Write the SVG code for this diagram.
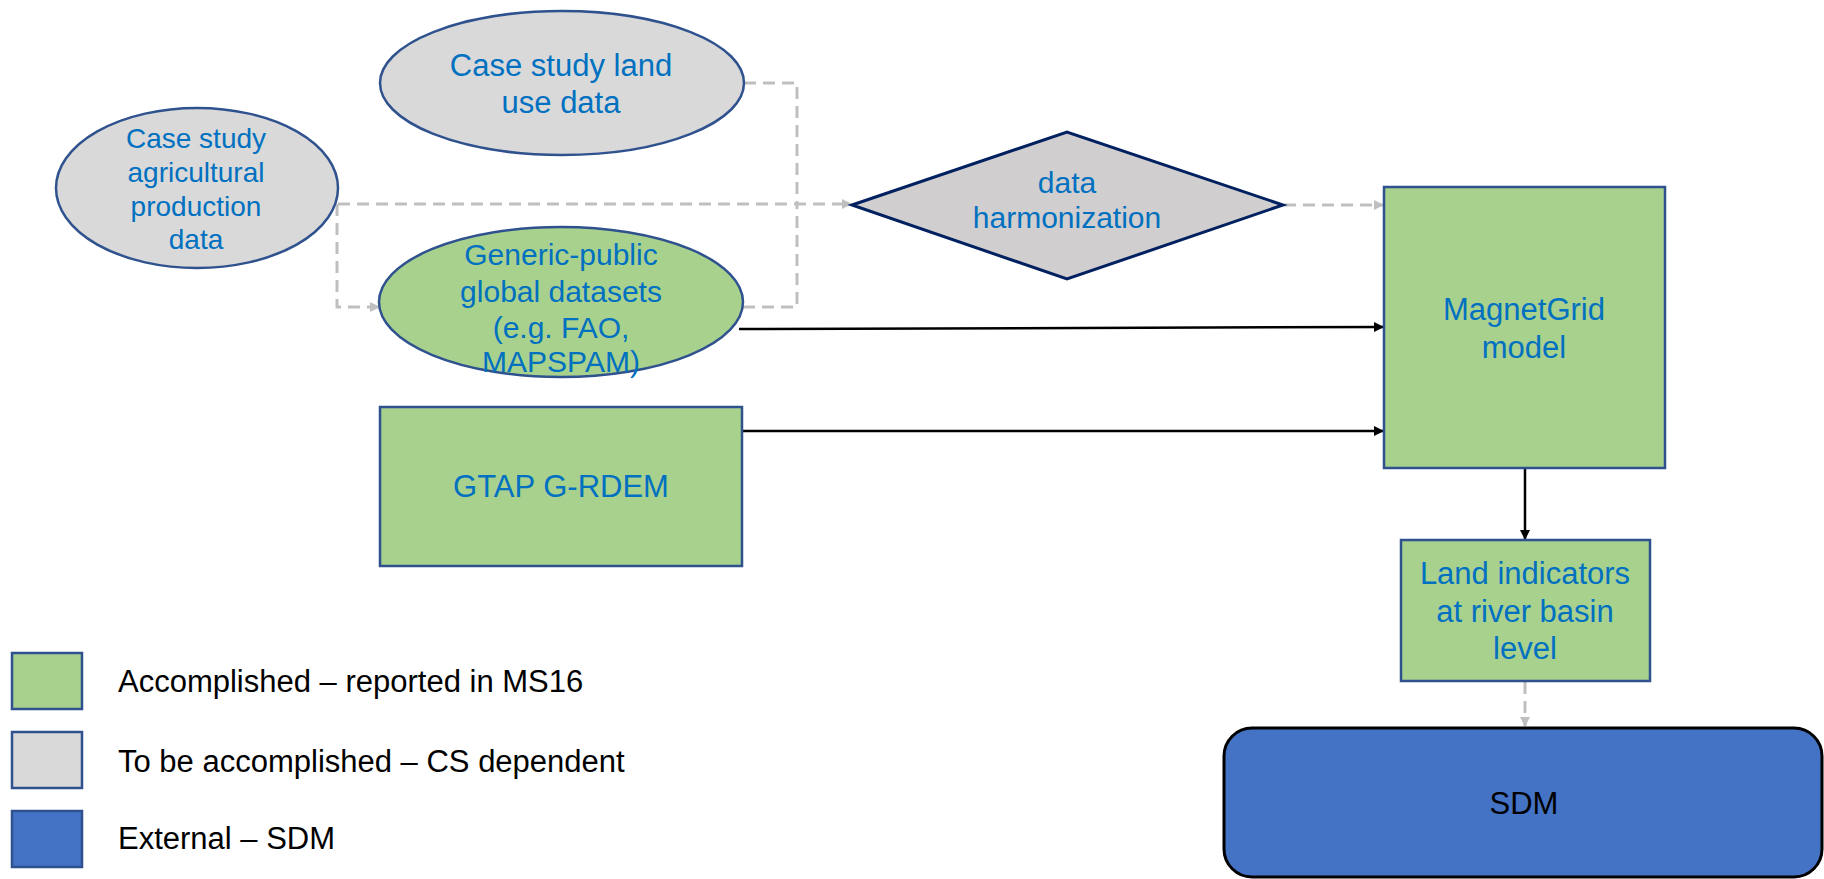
<svg xmlns="http://www.w3.org/2000/svg" width="1824" height="879" viewBox="0 0 1824 879">
<style>
text{font-family:"Liberation Sans",Arial,sans-serif;text-anchor:middle}
.t{fill:#0070C0;font-size:31px}
.t28{fill:#0070C0;font-size:28px}
.t30{fill:#0070C0;font-size:30px}
.leg{fill:#000;font-size:31px;text-anchor:start}
.gray{fill:#D9D9D9;stroke:#2F528F;stroke-width:2.5}
.green{fill:#A9D18E;stroke:#2F528F;stroke-width:2.5}
.dash{fill:none;stroke:#BFBFBF;stroke-width:3;stroke-dasharray:12 7}
.solid{fill:none;stroke:#000;stroke-width:2.5}
</style>
<defs>
<marker id="ag" markerWidth="10" markerHeight="10" refX="9" refY="5" orient="auto" markerUnits="userSpaceOnUse"><path d="M0,0 L10,5 L0,10 z" fill="#BFBFBF"/></marker>
<marker id="ab" markerWidth="10" markerHeight="10" refX="9" refY="5" orient="auto" markerUnits="userSpaceOnUse"><path d="M0,0 L10,5 L0,10 z" fill="#000"/></marker>
</defs>
<rect width="1824" height="879" fill="#fff"/>
<g id="connectors">
<path class="dash" d="M744,83 H797 V205"/>
<path class="dash" d="M743,307 H797 V205"/>
<path class="dash" d="M338,204 H851" marker-end="url(#ag)"/>
<path class="dash" d="M337,204 V307 H379" marker-end="url(#ag)"/>
<path class="dash" d="M1284,205 H1383" marker-end="url(#ag)"/>
<path class="solid" d="M739,329 L1383,327" marker-end="url(#ab)"/>
<path class="solid" d="M742,431 H1383" marker-end="url(#ab)"/>
<path class="solid" d="M1525,468 V539" marker-end="url(#ab)"/>
<path class="dash" d="M1525,682 V726" marker-end="url(#ag)"/>
</g>
<g id="landuse">
<ellipse class="gray" cx="562" cy="83" rx="182" ry="72"/>
<text class="t" x="561" y="76">Case study land</text>
<text class="t" x="561" y="113">use data</text>
</g>
<g id="agri">
<ellipse class="gray" cx="197" cy="188" rx="141" ry="80"/>
<text class="t28" x="196" y="148">Case study</text>
<text class="t28" x="196" y="182">agricultural</text>
<text class="t28" x="196" y="216">production</text>
<text class="t28" x="196" y="249">data</text>
</g>
<g id="generic">
<ellipse class="green" cx="561" cy="302" rx="182" ry="75"/>
<text class="t30" x="561" y="265">Generic-public</text>
<text class="t30" x="561" y="302">global datasets</text>
<text class="t30" x="561" y="338">(e.g. FAO,</text>
<text class="t30" x="561" y="372">MAPSPAM)</text>
</g>
<g id="gtap">
<rect class="green" x="380" y="407" width="362" height="159"/>
<text class="t" x="561" y="497">GTAP G-RDEM</text>
</g>
<g id="harmonization">
<polygon points="852,205 1067,132 1283,205 1067,279" fill="#D0CECE" stroke="#002060" stroke-width="3"/>
<text class="t30" x="1067" y="193">data</text>
<text class="t30" x="1067" y="228">harmonization</text>
</g>
<g id="magnetgrid">
<rect class="green" x="1384" y="187" width="281" height="281"/>
<text class="t" x="1524" y="320">MagnetGrid</text>
<text class="t" x="1524" y="358">model</text>
</g>
<g id="landind">
<rect class="green" x="1401" y="540" width="249" height="141"/>
<text class="t" x="1525" y="584">Land indicators</text>
<text class="t" x="1525" y="622">at river basin</text>
<text class="t" x="1525" y="659">level</text>
</g>
<g id="sdm">
<rect x="1224" y="728" width="598" height="149" rx="28" ry="28" fill="#4472C4" stroke="#000" stroke-width="3"/>
<text x="1524" y="814" font-size="31" fill="#000">SDM</text>
</g>
<g id="legend">
<rect class="green" x="12" y="653" width="70" height="56"/>
<rect class="gray" x="12" y="732" width="70" height="56"/>
<rect x="12" y="811" width="70" height="56" fill="#4472C4" stroke="#2F528F" stroke-width="2.5"/>
<text class="leg" x="118" y="692">Accomplished – reported in MS16</text>
<text class="leg" x="118" y="772">To be accomplished – CS dependent</text>
<text class="leg" x="118" y="849">External – SDM</text>
</g>
</svg>
